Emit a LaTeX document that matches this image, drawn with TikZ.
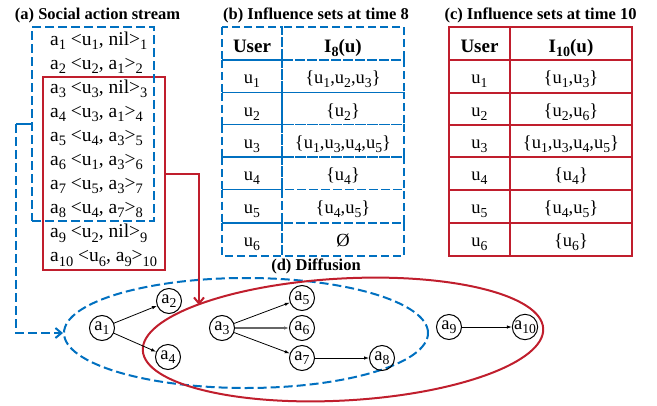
\documentclass[tikz,border=0pt]{standalone}
\usepackage{fontspec}
\setmainfont{Liberation Serif}
\usetikzlibrary{arrows.meta,shapes.geometric}
\definecolor{myblue}{RGB}{0,112,192}
\definecolor{myred}{RGB}{192,30,45}
\makeatletter
\newcommand\sbs[1]{\raisebox{-0.22em}{\@tempdima=\f@size pt\@tempdima=0.74\@tempdima\fontsize{\strip@pt\@tempdima}{0}\selectfont #1}}
\makeatother
\newcommand\ent[4]{a\sbs{#4} <u\sbs{#1}, #2>\sbs{#4}}
\begin{document}
\begin{tikzpicture}[x=1pt,y=-1pt,
  ttl/.style={font=\fontsize{16.5}{18}\selectfont\bfseries, inner sep=0, anchor=base},
  rowtxt/.style={font=\fontsize{19.5}{22}\selectfont, inner sep=0, anchor=base west},
  cell/.style={font=\fontsize{18.5}{20}\selectfont, inner sep=0, anchor=base},
  hcell/.style={font=\fontsize{19}{20}\selectfont\bfseries, inner sep=0, anchor=base},
  act/.style={circle, draw, line width=1pt, minimum size=25pt, inner sep=0, font=\fontsize{18.5}{20}\selectfont},
  edge/.style={-{Latex[length=5pt,width=3.5pt]}, line width=0.8pt},
  bdash/.style={draw=myblue, line width=2pt, dash pattern=on 9pt off 4pt},
  tdash/.style={draw=myblue, line width=1.9pt, dash pattern=on 8pt off 4pt},
  rsolid/.style={draw=myred, line width=2pt},
  barb/.style={-{Straight Barb[length=6pt,width=10pt]}}
]
\useasboundingbox (0,0) rectangle (657,405);

% titles
\node[ttl] (ta) at (97.5,19.5) {(a) Social action stream};
\node[ttl] (tb) at (316,19.5) {(b) Influence sets at time 8};
\node[ttl] (tc) at (540.5,19.5) {(c) Influence sets at time 10};
\node[ttl] (td) at (316,270.7) {(d) Diffusion};

% (a) action stream
\node[rsolid, rectangle, minimum width=122pt, minimum height=193pt, inner sep=0] (boxR) at (104,173.5) {};
\node[bdash, rectangle, minimum width=122pt, minimum height=194pt, inner sep=0] (boxB) at (93,124) {};
\node[rowtxt] (r1) at (50,45) {\ent{1}{nil}{}{1}};
\node[rowtxt] (r2) at (50,69.1) {\ent{2}{a\sbs{1}}{}{2}};
\node[rowtxt] (r3) at (50,93.2) {\ent{3}{nil}{}{3}};
\node[rowtxt] (r4) at (50,117.3) {\ent{3}{a\sbs{1}}{}{4}};
\node[rowtxt] (r5) at (50,141.4) {\ent{4}{a\sbs{3}}{}{5}};
\node[rowtxt] (r6) at (50,165.5) {\ent{1}{a\sbs{3}}{}{6}};
\node[rowtxt] (r7) at (50,189.6) {\ent{5}{a\sbs{3}}{}{7}};
\node[rowtxt] (r8) at (50,213.7) {\ent{4}{a\sbs{7}}{}{8}};
\node[rowtxt] (r9) at (50,237.8) {\ent{2}{nil}{}{9}};
\node[rowtxt] (r10) at (50,261.9) {\ent{6}{a\sbs{9}}{}{10}};

% (b) table, dashed cells
\foreach \yt/\yb in {27/60,60/92.5,92.5/124.5,124.5/157,157/189.5,189.5/223,223/256}{
  \draw[tdash] (222,\yt) rectangle (282,\yb);
  \draw[tdash] (282,\yt) rectangle (404,\yb);
}
\node[hcell] (bh1) at (252,52) {User};
\node[hcell] (bh2) at (343,52) {I\sbs{8}(u)};
\node[cell] (bu1) at (252,83.5) {u\sbs{1}};
\node[cell] (bs1) at (343,83.5) {\{u\sbs{1},u\sbs{2},u\sbs{3}\}};
\node[cell] (bu2) at (252,116) {u\sbs{2}};
\node[cell] (bs2) at (343,116) {\{u\sbs{2}\}};
\node[cell] (bu3) at (252,148) {u\sbs{3}};
\node[cell] (bs3) at (343,148) {\{u\sbs{1},u\sbs{3},u\sbs{4},u\sbs{5}\}};
\node[cell] (bu4) at (252,180.5) {u\sbs{4}};
\node[cell] (bs4) at (343,180.5) {\{u\sbs{4}\}};
\node[cell] (bu5) at (252,213) {u\sbs{5}};
\node[cell] (bs5) at (343,213) {\{u\sbs{4},u\sbs{5}\}};
\node[cell] (bu6) at (252,246.5) {u\sbs{6}};
\node[cell] (bs6) at (343,246.5) {Ø};

% (c) table
\draw[rsolid] (449,27) rectangle (632,256);
\draw[rsolid] (510,27) -- (510,256);
\foreach \yy in {60,92.5,124.5,157,189.5,223}{
  \draw[rsolid] (449,\yy) -- (632,\yy);
}
\node[hcell] (ch1) at (479.5,52) {User};
\node[hcell] (ch2) at (571,52) {I\sbs{10}(u)};
\node[cell] (cu1) at (479.5,83.5) {u\sbs{1}};
\node[cell] (cs1) at (571,83.5) {\{u\sbs{1},u\sbs{3}\}};
\node[cell] (cu2) at (479.5,116) {u\sbs{2}};
\node[cell] (cs2) at (571,116) {\{u\sbs{2},u\sbs{6}\}};
\node[cell] (cu3) at (479.5,148) {u\sbs{3}};
\node[cell] (cs3) at (571,148) {\{u\sbs{1},u\sbs{3},u\sbs{4},u\sbs{5}\}};
\node[cell] (cu4) at (479.5,180.5) {u\sbs{4}};
\node[cell] (cs4) at (571,180.5) {\{u\sbs{4}\}};
\node[cell] (cu5) at (479.5,213) {u\sbs{5}};
\node[cell] (cs5) at (571,213) {\{u\sbs{4},u\sbs{5}\}};
\node[cell] (cu6) at (479.5,246.5) {u\sbs{6}};
\node[cell] (cs6) at (571,246.5) {\{u\sbs{6}\}};

% (d) diffusion
\node[ellipse, bdash, minimum width=364pt, minimum height=110pt, inner sep=0] (ellB) at (246,333) {};
\node[ellipse, rsolid, minimum width=401pt, minimum height=122pt, inner sep=0, rotate=3.15] (ellR) at (343,339.5) {};

\node[act] (a1) at (102,328) {a\sbs{1}};
\node[act] (a2) at (169,301) {a\sbs{2}};
\node[act] (a4) at (168,357) {a\sbs{4}};
\node[act] (a3) at (222,328) {a\sbs{3}};
\node[act] (a5) at (302,298) {a\sbs{5}};
\node[act] (a6) at (302,328) {a\sbs{6}};
\node[act] (a7) at (302,358) {a\sbs{7}};
\node[act] (a8) at (382,358) {a\sbs{8}};
\node[act] (a9) at (449,327) {a\sbs{9}};
\node[act] (a10) at (525,327) {a\sbs{10}};

\draw[edge] (a1) -- (a2);
\draw[edge] (a1) -- (a4);
\draw[edge] (a3) -- (a5);
\draw[edge, draw=black!60, line width=1.2pt] (a3) -- (a6);
\draw[edge] (a3) -- (a7);
\draw[edge] (a7) -- (a8);
\draw[edge] (a9) -- (a10);

% connectors
\draw[myblue, line width=2pt] (boxB.west) -- ++(-15,0) coordinate (bc);
\draw[bdash, barb] (bc) |- (ellB.west);
\coordinate (rt) at (199,305);
\draw[rsolid, barb] (boxR.east) -| (rt);
\end{tikzpicture}
\end{document}
